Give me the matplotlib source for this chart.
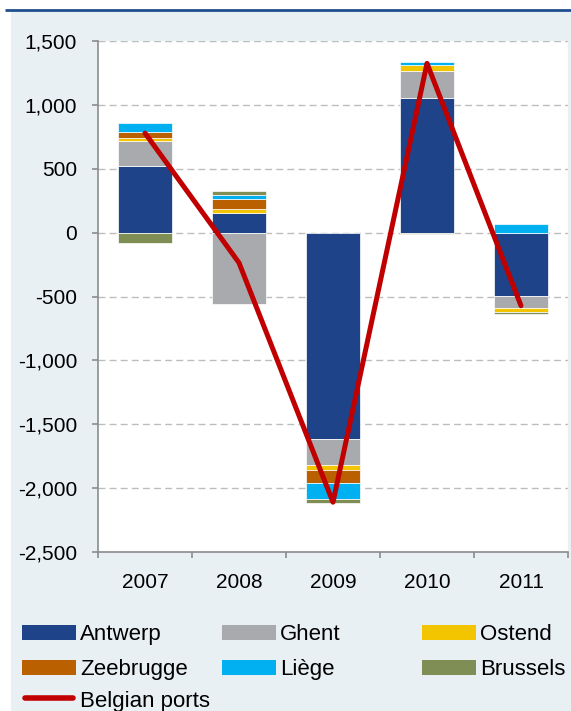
import numpy as np
import matplotlib
matplotlib.use('Agg')
import matplotlib.pyplot as plt
from matplotlib.patches import Rectangle
from matplotlib.lines import Line2D
from matplotlib.ticker import FuncFormatter, MultipleLocator

plt.rcParams['font.family'] = ['Liberation Sans', 'DejaVu Sans']

# --- data (change in throughput) ---
years = ['2007', '2008', '2009', '2010', '2011']
antwerp = [518, 153, -1617, 1050, -495]
ghent = [203, -560, -203, 215, -96]
ostend = [19, 34, -37, 45, -31]
zeebrugge = [44, 75, -104, 5, 0]
liege = [78, 31, -128, 20, 66]
brussels = [-83, 31, -29, -12, -16]
belgian_ports = [779, -236, -2110, 1325, -572]

series = [
    ('Antwerp', antwerp, '#1F4388'),
    ('Ghent', ghent, '#A9AAAE'),
    ('Ostend', ostend, '#F2C500'),
    ('Zeebrugge', zeebrugge, '#BA6000'),
    ('Liège', liege, '#00B0F0'),
    ('Brussels', brussels, '#7F8E55'),
]
line_color = '#C00000'

W, H = 571, 711
fig = plt.figure(figsize=(W / 100, H / 100), dpi=100)

# background panel in pixel coordinates
bg = fig.add_axes([0, 0, 1, 1], zorder=0)
bg.set_xlim(0, W)
bg.set_ylim(H, 0)
bg.axis('off')
bg.add_patch(Rectangle((11, 11), W - 11, H - 11, facecolor='#E9F0F4', edgecolor='none'))
bg.plot([5, W], [10, 10], color='#1F4E8C', lw=2.0, solid_capstyle='butt')

ax = fig.add_axes([98 / W, 1 - 552 / H, 470 / W, 511 / H], zorder=1)
ax.set_facecolor('white')

x = np.arange(len(years))
pos_base = np.zeros(len(years))
neg_base = np.zeros(len(years))
for name, vals, col in series:
    v = np.array(vals, dtype=float)
    bottoms = np.where(v >= 0, pos_base, neg_base)
    ax.bar(x, v, width=0.57, bottom=bottoms, color=col, edgecolor='white',
           linewidth=0.5, zorder=2)
    pos_base += np.where(v >= 0, v, 0)
    neg_base += np.where(v < 0, v, 0)

ax.plot(x, belgian_ports, color=line_color, lw=3.6, zorder=3,
        solid_capstyle='round', solid_joinstyle='round')

ax.set_xlim(-0.5, len(years) - 0.5)
ax.set_ylim(-2500, 1500)
ax.yaxis.set_major_locator(MultipleLocator(500))
ax.yaxis.set_major_formatter(FuncFormatter(lambda v, p: f'{v:,.0f}'))
ax.set_xticks(x)
ax.set_xticklabels(years)
ax.set_xticks(np.arange(-0.5, len(years)), minor=True)

ax.grid(axis='y', color='#BDBDBD', linestyle=(0, (5, 3)), linewidth=1.0, zorder=0)
ax.set_axisbelow(True)

for s in ['top', 'right']:
    ax.spines[s].set_visible(False)
for s in ['left', 'bottom']:
    ax.spines[s].set_color('#8C8C8C')
    ax.spines[s].set_linewidth(1.2)

ax.tick_params(axis='y', direction='out', length=4.5, width=1.2, color='#8C8C8C',
               labelsize=15, pad=10.5)
ax.tick_params(axis='x', which='major', length=0, labelsize=15, pad=15)
ax.tick_params(axis='x', which='minor', direction='out', length=4, width=1.2,
               color='#8C8C8C')

# legend, laid out row-wise as in the original
col_x = [22, 222, 422]
row_y = [632, 667, 699]
for i, (name, vals, col) in enumerate(series):
    cx = col_x[i % 3]
    cy = row_y[i // 3]
    bg.add_patch(Rectangle((cx, cy - 7.5), 54, 15, facecolor=col, edgecolor='none'))
    bg.text(cx + 58, cy + 8, name, fontsize=16, va='baseline', ha='left')
bg.add_line(Line2D([col_x[0] + 3, col_x[0] + 51], [row_y[2] - 1, row_y[2] - 1],
                   color=line_color, lw=4, solid_capstyle='round'))
bg.text(col_x[0] + 58, row_y[2] + 8, 'Belgian ports', fontsize=16, va='baseline', ha='left')

fig.savefig('out.png', dpi=100)
